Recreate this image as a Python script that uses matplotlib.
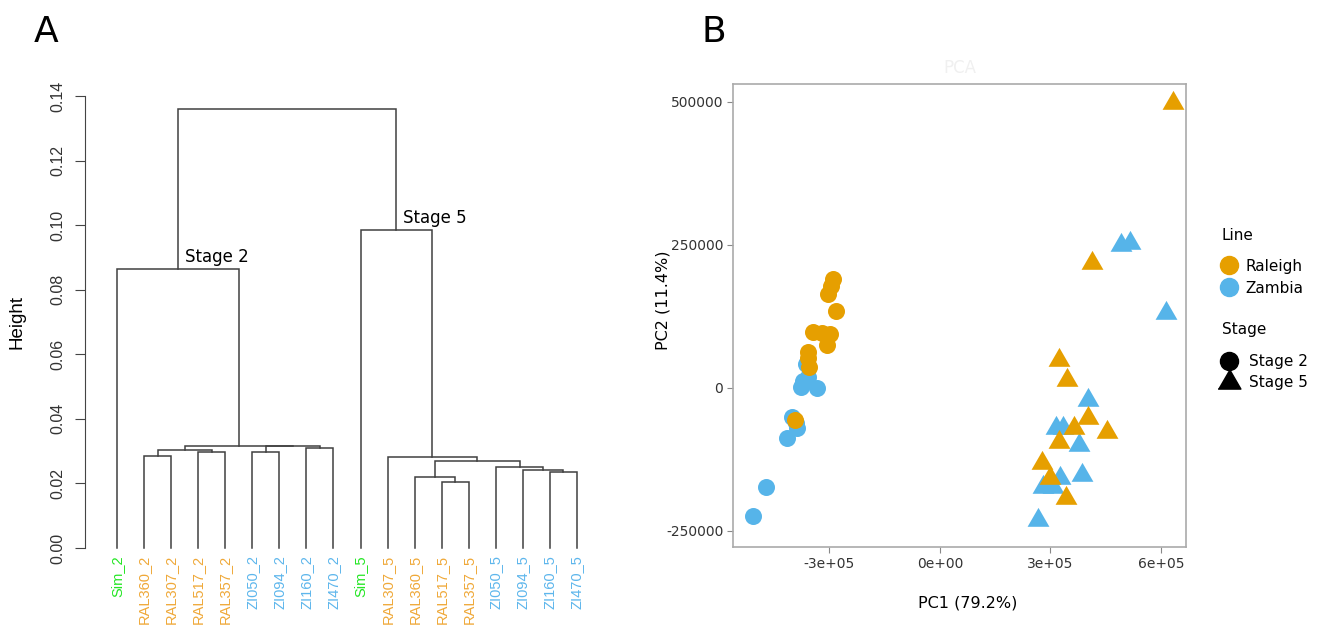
import numpy as np
import matplotlib
matplotlib.use("Agg")
from matplotlib import pyplot as plt
from matplotlib.lines import Line2D

# dendrogram leaves, left to right
leaf_labels = ["Sim_2", "RAL360_2", "RAL307_2", "RAL517_2", "RAL357_2",
               "ZI050_2", "ZI094_2", "ZI160_2", "ZI470_2",
               "Sim_5", "RAL307_5", "RAL360_5", "RAL517_5", "RAL357_5",
               "ZI050_5", "ZI094_5", "ZI160_5", "ZI470_5"]

# merges: (left child, right child, height); new nodes are numbered from 18
merges = [
    (1, 2, 0.0284), (3, 4, 0.0297), (5, 6, 0.0296), (7, 8, 0.0310),
    (18, 19, 0.0305), (20, 21, 0.0315), (22, 23, 0.0317), (0, 24, 0.0864),
    (12, 13, 0.0203), (11, 26, 0.0221), (16, 17, 0.0236), (15, 28, 0.0242),
    (14, 29, 0.0252), (27, 30, 0.0268), (10, 31, 0.0282), (9, 32, 0.0986),
    (25, 33, 0.1361),
]

# PCA scores
ral_s2_pc1 = [-290500, -296000, -304000, -282000, -344800, -320000,
              -298600, -306800, -358400, -358400, -355700, -393700]
ral_s2_pc2 = [190500, 178300, 164300, 134600, 97900, 96100,
              94400, 75200, 62900, 52400, 36700, -55900]
zam_s2_pc1 = [-507700, -472400, -415400, -388200, -401800, -372000,
              -377400, -358400, -334000, -363800, -392000]
zam_s2_pc2 = [-223700, -173000, -87400, -69900, -50700, 12200,
              1700, 19200, 0, 42000, -62000]
ral_s5_pc1 = [632600, 412700, 323100, 344800, 401800, 363800,
              453400, 323100, 276900, 298700, 342100]
ral_s5_pc2 = [498200, 218500, 48900, 14000, -52400, -69900,
              -76900, -94400, -131100, -157300, -192300]
zam_s5_pc1 = [491400, 515900, 613600, 401800, 314900, 334000,
              377400, 325800, 385500, 279600, 306800, 266100]
zam_s5_pc2 = [250000, 253500, 131100, -21000, -69900, -69900,
              -99600, -157300, -152100, -173000, -173000, -230700]

ORANGE = "#E69F00"
BLUE = "#56B4E9"
label_colours = {"Sim": "#22E622", "RAL": "#EFA838", "ZI": "#5DB6EC"}

# equilateral triangle, centred on its centroid
TRI = [(-1.0, -0.577), (1.0, -0.577), (0.0, 1.155)]


def _leaf_colour(name):
    for prefix, colour in label_colours.items():
        if name.startswith(prefix):
            return colour
    return "black"


fig = plt.figure(figsize=(13.31, 6.39), dpi=100)

# ---- A: dendrogram ----
axA = fig.add_axes([0.0639, 0.1424, 0.3869, 0.7074])
n = len(leaf_labels)
xpos = {i: float(i) for i in range(n)}
ypos = {i: 0.0 for i in range(n)}
for k, (a, b, h) in enumerate(merges):
    node = n + k
    axA.plot([xpos[a], xpos[a], xpos[b], xpos[b]], [ypos[a], h, h, ypos[b]],
             color="#404040", lw=1.1, solid_joinstyle="miter", clip_on=False)
    xpos[node] = (xpos[a] + xpos[b]) / 2
    ypos[node] = h

axA.set_xlim(-1.18, 17.85)
axA.set_ylim(0, 0.14)
for side in ["top", "right", "bottom"]:
    axA.spines[side].set_visible(False)
axA.spines["left"].set_bounds(0, 0.14)
axA.spines["left"].set_color("#444444")
yt = np.arange(0, 0.141, 0.02)
axA.set_yticks(yt)
axA.set_yticklabels([f"{v:.2f}" for v in yt], rotation=90, va="center",
                    fontsize=11.5, color="#333333", family="Liberation Sans")
axA.tick_params(axis="y", length=7, color="#444444", pad=7)
axA.set_xticks([])
axA.set_ylabel("Height", fontsize=13.5, family="Liberation Sans")
axA.yaxis.set_label_coords(-0.115, 0.5)

for i, lab in enumerate(leaf_labels):
    axA.annotate(lab, (i, 0), xytext=(0, -5), textcoords="offset points",
                 rotation=90, ha="center", va="top", fontsize=10.5,
                 color=_leaf_colour(lab), family="Liberation Sans")

axA.annotate("Stage 2", (xpos[25], ypos[25]), xytext=(5, 2),
             textcoords="offset points", fontsize=12, ha="left", va="bottom")
axA.annotate("Stage 5", (xpos[33], ypos[33]), xytext=(5, 2),
             textcoords="offset points", fontsize=12, ha="left", va="bottom")

# ---- B: PCA ----
axB = fig.add_axes([0.5507, 0.1440, 0.3403, 0.7246])
axB.scatter(zam_s2_pc1, zam_s2_pc2, s=150, color=BLUE, marker="o", lw=0, zorder=3)
axB.scatter(ral_s2_pc1, ral_s2_pc2, s=150, color=ORANGE, marker="o", lw=0, zorder=3)
axB.scatter(zam_s5_pc1, zam_s5_pc2, s=330, color=BLUE, marker=TRI, lw=0, zorder=3)
axB.scatter(ral_s5_pc1, ral_s5_pc2, s=330, color=ORANGE, marker=TRI, lw=0, zorder=3)

axB.set_xlim(-562000, 668000)
axB.set_ylim(-278000, 531400)
axB.set_xticks([-3e5, 0, 3e5, 6e5])
axB.set_xticklabels(["-3e+05", "0e+00", "3e+05", "6e+05"])
axB.set_yticks([-250000, 0, 250000, 500000])
axB.set_yticklabels(["-250000", "0", "250000", "500000"])
for sp in axB.spines.values():
    sp.set_color("#aaaaaa")
    sp.set_linewidth(1.2)
axB.tick_params(length=4, color="#888888", labelsize=10, labelcolor="#333333", pad=3)
axB.set_xlabel("PC1 (79.2%)", fontsize=11.5)
axB.set_ylabel("PC2 (11.4%)", fontsize=11.5)
axB.xaxis.set_label_coords(0.519, -0.104)
axB.yaxis.set_label_coords(-0.139, 0.533)
axB.set_title("PCA", fontsize=12, color="#f0f0f0", pad=8)

line_handles = [
    Line2D([], [], marker="o", ls="", color=ORANGE, markersize=13),
    Line2D([], [], marker="o", ls="", color=BLUE, markersize=13),
]
stage_handles = [
    Line2D([], [], marker="o", ls="", color="black", markersize=13),
    Line2D([], [], marker=TRI, ls="", color="black", markersize=19),
]
fig.legend(line_handles, ["Raleigh", "Zambia"],
           loc="upper left", bbox_to_anchor=(0.911, 0.607),
           frameon=False, fontsize=11, borderpad=0,
           handletextpad=0.45, labelspacing=0.45, handlelength=1.2)
fig.legend(stage_handles, ["Stage 2", "Stage 5"],
           loc="upper left", bbox_to_anchor=(0.911, 0.458),
           frameon=False, fontsize=11, borderpad=0,
           handletextpad=0.7, labelspacing=0.4, handlelength=1.2)
fig.text(0.918, 0.631, "Line", fontsize=11, va="center")
fig.text(0.918, 0.484, "Stage", fontsize=11, va="center")

fig.text(0.025, 0.935, "A", fontsize=26)
fig.text(0.527, 0.935, "B", fontsize=26)

fig.savefig("out.png", dpi=100, facecolor="white")
